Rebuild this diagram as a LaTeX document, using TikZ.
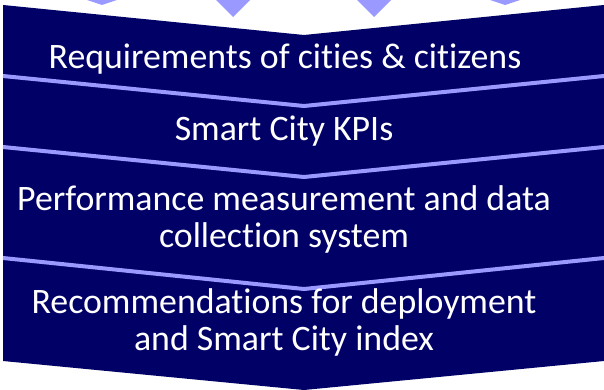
\documentclass[tikz,border=0pt]{standalone}
\usepackage{fontspec}
\setmainfont{Carlito}[Ligatures=NoCommon]
\usepackage{xcolor}
\definecolor{navyband}{RGB}{0,0,102}
\definecolor{lilacline}{RGB}{153,153,255}

\begin{document}
\begin{tikzpicture}[line cap=round,line join=round,x=1pt,y=-1pt,
  bandtext/.style={text=white,align=center,font=\fontsize{35.8}{37}\selectfont,inner sep=0pt}]
\useasboundingbox (0,0) rectangle (604,390);
\fill [color=lilacline] (87,0) -- (117,0) -- (102,5) -- cycle;
\fill [color=lilacline] (216,0) -- (250,0) -- (233,17) -- cycle;
\fill [color=lilacline] (357,0) -- (391,0) -- (374,17) -- cycle;
\fill [color=lilacline] (490,0) -- (520,0) -- (505,5) -- cycle;
\fill [color=navyband] (3,5) -- (304,35) -- (604,5) -- (604,361) -- (304,390) -- (3,361) -- cycle;
\draw [color=lilacline,line width=4pt,line cap=butt] (3,76) -- (304,106) -- (604,76);
\draw [color=lilacline,line width=4pt,line cap=butt] (3,147) -- (304,177) -- (604,147);
\draw [color=lilacline,line width=4pt,line cap=butt] (3,258) -- (304,289) -- (604,258);
\node [bandtext] (req) at (285,59) {Requirements of cities \& citizens};
\node [bandtext] (kpi) at (284,131) {Smart City KPIs};
\node [bandtext] (perf) at (284,219) {Performance measurement and data\\collection system};
\node [bandtext] (reco) at (284,322) {Recommendations for deployment\\and Smart City index};
\end{tikzpicture}
\end{document}
